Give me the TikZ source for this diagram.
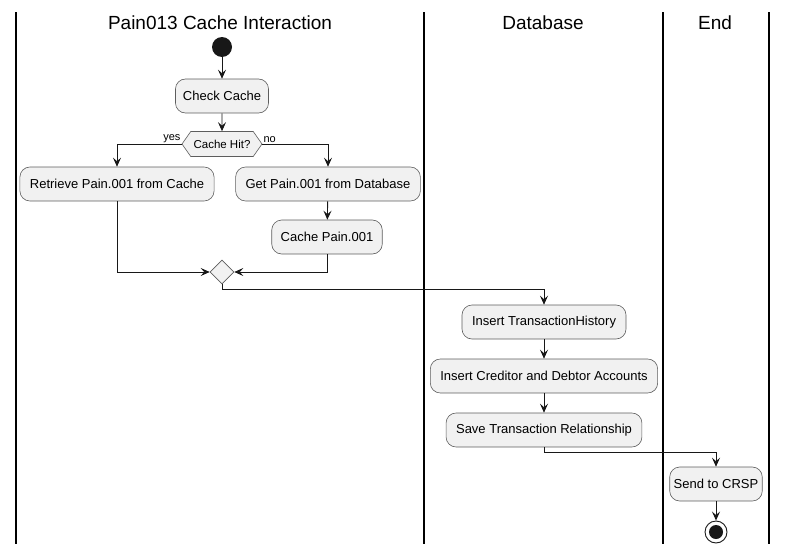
\documentclass[tikz,border=0pt]{standalone}
\usepackage{fontspec}
\setmainfont{Liberation Sans}
\usetikzlibrary{arrows.meta,shapes.geometric,shapes.symbols}
\definecolor{boxfill}{HTML}{F1F1F1}
\definecolor{boxline}{HTML}{181818}
\tikzset{
  act/.style={draw=boxline!70, line width=0.6pt, fill=boxfill, rounded corners=10pt,
    minimum height=34pt, inner xsep=10pt, font=\fontsize{13}{15}\selectfont},
  flow/.style={draw=boxline, line width=0.9pt, -{Stealth[length=9pt,width=8pt,inset=3.5pt]}},
  lane/.style={draw=black, line width=1.3pt},
  title/.style={font=\fontsize{19}{22}\selectfont},
  lbl/.style={font=\fontsize{11}{13}\selectfont, inner sep=1pt}
}
\begin{document}
\begin{tikzpicture}[x=1pt,y=-1pt]
\useasboundingbox (0,0) rectangle (787,554);
% lanes
\draw[lane] (16,12) -- (16,544);
\draw[lane] (424,12) -- (424,544);
\draw[lane] (663,12) -- (663,544);
\draw[lane] (769,12) -- (769,544);
\node[title] (t1) at (220,23) {Pain013 Cache Interaction};
\node[title] (t2) at (543,23) {Database};
\node[title] (t3) at (715,23) {End};
% nodes
\node[circle, fill=boxline, minimum size=20pt, inner sep=0pt] (start) at (222,47) {};
\node[act, inner xsep=7.5pt] (check) at (222,96) {Check Cache};
\node[draw=boxline!70, fill=boxfill, line width=0.6pt, signal, signal to=west and east, signal pointer angle=110,
  minimum height=25pt, minimum width=80pt, inner sep=2pt, font=\fontsize{11.5}{13}\selectfont] (hit) at (222,144) {Cache Hit?};
\node[act] (retr) at (117,184) {Retrieve Pain.001 from Cache};
\node[act] (get) at (328,184) {Get Pain.001 from Database};
\node[act, inner xsep=9pt] (cachep) at (327,237) {Cache Pain.001};
\node[draw=boxline!70, fill=boxfill, line width=0.6pt, diamond, minimum size=24pt, inner sep=0pt] (merge) at (222,272) {};
\node[act] (ins) at (544,322) {Insert TransactionHistory};
\node[act] (cred) at (544,376) {Insert Creditor and Debtor Accounts};
\node[act] (save) at (544,430) {Save Transaction Relationship};
\node[act, inner xsep=4pt] (send) at (716,484) {Send to CRSP};
\node[circle, draw=boxline, line width=0.9pt, fill=white, minimum size=22pt, inner sep=0pt] (endo) at (716,532) {};
\node[circle, fill=boxline, minimum size=14pt, inner sep=0pt] (endi) at (716,532) {};
% connectors
\draw[flow] (start) -- (check);
\draw[flow] (check) -- (hit);
\draw[flow] (hit.west) -| (retr.north);
\draw[flow] (hit.east) -| (get.north);
\node[lbl, anchor=south east] (yes) at (hit.west) {yes};
\node[lbl, anchor=south west] (no) at (hit.east) {no};
\draw[flow] (get) -- (cachep);
\draw[flow] (retr.south) |- (merge.west);
\draw[flow] (cachep.south) |- (merge.east);
\coordinate (m1) at (222,289);
\draw[flow] (merge.south) -- (m1) -| (ins.north);
\draw[flow] (ins) -- (cred);
\draw[flow] (cred) -- (save);
\coordinate (s1) at (544,452);
\draw[flow] (save.south) -- (s1) -| (send.north);
\draw[flow] (send) -- (endo);
\end{tikzpicture}
\end{document}
